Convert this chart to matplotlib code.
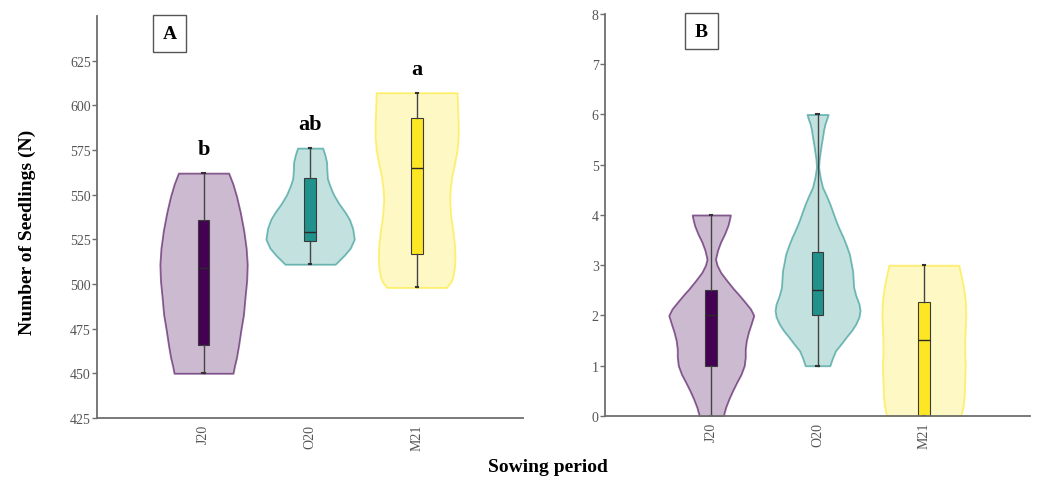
import matplotlib
matplotlib.use("Agg")
import matplotlib.pyplot as plt
from matplotlib.colors import to_rgba
import numpy as np

plt.rcParams['font.family'] = ['Liberation Serif', 'DejaVu Serif']

categories = ["J20", "O20", "M21"]
letters_a = ["b", "ab", "a"]
colors = ["#440154", "#21918c", "#fde725"]

# ---- panel A : number of seedlings, box stats
a_min = [450, 511, 498]
a_q1 = [466, 524, 517]
a_med = [509, 529, 565]
a_q3 = [536, 559, 593]
a_max = [562, 576, 607]

# ---- panel B
b_min = [0, 1, 0]
b_q1 = [1.0, 2.0, 0.0]
b_med = [2.0, 2.5, 1.52]
b_q3 = [2.5, 3.27, 2.27]
b_max = [4, 6, 3]

# violin outlines: y values and half widths (category units)
a_j20_y = [450, 454, 459, 466, 474, 483, 493, 502, 511, 520, 530, 540, 549, 556, 562]
a_j20_w = [0.277, 0.29, 0.31, 0.33, 0.35, 0.375, 0.39, 0.405, 0.41, 0.40, 0.377, 0.345, 0.31, 0.275, 0.236]
a_o20_y = [511, 516, 520, 525, 531, 536, 540, 545, 550, 555, 559, 564, 568, 572, 576]
a_o20_w = [0.236, 0.32, 0.377, 0.415, 0.40, 0.37, 0.33, 0.27, 0.22, 0.185, 0.163, 0.157, 0.155, 0.14, 0.118]
a_m21_y = [498, 501, 504, 509, 515, 522, 530, 538, 547, 553, 560, 567, 575, 582, 590, 598, 607]
a_m21_w = [0.28, 0.32, 0.34, 0.355, 0.36, 0.355, 0.34, 0.32, 0.31, 0.315, 0.33, 0.355, 0.38, 0.39, 0.39, 0.385, 0.38]

b_j20_y = [0, 0.17, 0.34, 0.5, 0.67, 0.83, 1.0, 1.17, 1.33, 1.5, 1.67, 1.83, 2.0, 2.13, 2.26, 2.4,
           2.53, 2.7, 2.86, 3.0, 3.12, 3.3, 3.46, 3.62, 3.79, 3.9, 4.0]
b_j20_w = [0.113, 0.135, 0.166, 0.2, 0.24, 0.28, 0.31, 0.32, 0.32, 0.33, 0.35, 0.375, 0.40, 0.37, 0.32, 0.265,
           0.21, 0.145, 0.088, 0.055, 0.04, 0.06, 0.088, 0.125, 0.157, 0.17, 0.18]
b_o20_y = [1.0, 1.15, 1.3, 1.43, 1.57, 1.7, 1.83, 1.97, 2.1, 2.23, 2.4, 2.56, 2.72, 2.89, 3.05, 3.22, 3.4,
           3.56, 3.72, 3.89, 4.05, 4.22, 4.4, 4.55, 4.75, 4.95, 5.1, 5.21, 5.4, 5.55, 5.7, 5.81, 5.9, 6.0]
b_o20_w = [0.116, 0.14, 0.17, 0.22, 0.27, 0.32, 0.36, 0.39, 0.40, 0.39, 0.36, 0.34, 0.335, 0.33, 0.315, 0.30, 0.27,
           0.24, 0.205, 0.172, 0.145, 0.116, 0.08, 0.047, 0.025, 0.01, 0.015, 0.022, 0.035, 0.047, 0.058, 0.07, 0.085, 0.10]
b_m21_y = [0, 0.2, 0.4, 0.7, 1.0, 1.25, 1.5, 1.75, 2.0, 2.3, 2.6, 2.8, 3.0]
b_m21_w = [0.35, 0.37, 0.38, 0.385, 0.39, 0.385, 0.385, 0.39, 0.395, 0.39, 0.37, 0.35, 0.33]


def draw_panel(ax, outlines, mins, q1s, meds, q3s, maxs):
    vp = []
    for (ys, ws), lo, hi, m in zip(outlines, mins, maxs, meds):
        vp.append({'coords': np.array(ys, float), 'vals': np.array(ws, float),
                   'mean': m, 'median': m, 'min': lo, 'max': hi})
    widths = [2 * max(ws) for ys, ws in outlines]
    parts = ax.violin(vp, positions=range(3), widths=widths, showextrema=False)
    for body, c in zip(parts['bodies'], colors):
        body.set_alpha(None)
        body.set_facecolor(to_rgba(c, 0.27))
        body.set_edgecolor(to_rgba(c, 0.6))
        body.set_linewidth(1.3)
        body.set_joinstyle('round')

    stats = []
    for lo, a, m, b, hi in zip(mins, q1s, meds, q3s, maxs):
        stats.append({'med': m, 'q1': a, 'q3': b, 'whislo': lo, 'whishi': hi, 'fliers': []})
    bp = ax.bxp(stats, positions=range(3), widths=0.11, patch_artist=True,
                showfliers=False, capwidths=0.02,
                boxprops=dict(edgecolor='#3a3a3a', linewidth=0.8),
                whiskerprops=dict(color='#444444', linewidth=1.0),
                capprops=dict(color='#333333', linewidth=1.5),
                medianprops=dict(color='#2a2a2a', linewidth=1.0))
    for patch, c in zip(bp['boxes'], colors):
        patch.set_facecolor(c)

    ax.set_xlim(-1, 3)
    ax.set_xticks(range(3))
    ax.set_xticklabels(categories, rotation=90)
    for s in ('top', 'right'):
        ax.spines[s].set_visible(False)
    for s in ('left', 'bottom'):
        ax.spines[s].set_color('#6e6e6e')
        ax.spines[s].set_linewidth(1.3)
    ax.tick_params(axis='x', length=0, pad=4, labelsize=10, labelcolor='#555555')
    ax.tick_params(axis='y', length=3.5, width=1, color='#6e6e6e', pad=1,
                   labelsize=10, labelcolor='#555555')


fig = plt.figure(figsize=(10.42, 4.81), dpi=100)
axA = fig.add_axes([0.0931, 0.129, 0.409, 0.836])
axB = fig.add_axes([0.5806, 0.133, 0.408, 0.836])

draw_panel(axA, [(a_j20_y, a_j20_w), (a_o20_y, a_o20_w), (a_m21_y, a_m21_w)],
           a_min, a_q1, a_med, a_q3, a_max)
axA.set_ylim(425, 650)
axA.set_yticks(range(425, 626, 25))

draw_panel(axB, [(b_j20_y, b_j20_w), (b_o20_y, b_o20_w), (b_m21_y, b_m21_w)],
           b_min, b_q1, b_med, b_q3, b_max)
axB.set_ylim(0, 8)
axB.set_yticks(range(0, 9))

# significance letters
for i, (t, top) in enumerate(zip(letters_a, a_max)):
    axA.annotate(t, (i, top), xytext=(0, 10), textcoords='offset points',
                 ha='center', va='bottom', fontsize=16, fontweight='bold')

# panel tags
box = dict(boxstyle='square,pad=0.5', facecolor='white', edgecolor='#555555', linewidth=1.0)
axA.text(-0.32, 640, "A", ha='center', va='center', fontsize=14, fontweight='bold', bbox=box)
axB.text(-0.094, 7.66, "B", ha='center', va='center', fontsize=14, fontweight='bold', bbox=box)

fig.text(0.026, 0.517, "Number of Seedlings (N)", rotation=90, ha='center', va='center',
         fontsize=14, fontweight='bold')
fig.text(0.526, 0.029, "Sowing period", ha='center', va='center', fontsize=14, fontweight='bold')

fig.savefig("out.png", dpi=100)
